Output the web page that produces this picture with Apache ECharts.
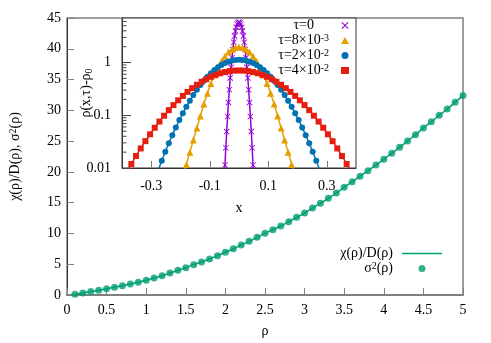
<!DOCTYPE html>
<html><head><meta charset="utf-8">
<script src="https://cdn.jsdelivr.net/npm/echarts@6/dist/echarts.min.js"></script>
<style>html,body{margin:0;padding:0;background:#fff}#c{width:491px;height:343px}</style>
</head><body><div id="c"></div>
<script>
// ---- main panel data ----
const rho = [0.1,0.2,0.3,0.4,0.5,0.6,0.7,0.8,0.9,1.0,1.1,1.2,1.3,1.4,1.5,1.6,1.7,1.8,1.9,2.0,2.1,2.2,2.3,2.4,2.5,2.6,2.7,2.8,2.9,3.0,3.1,3.2,3.3,3.4,3.5,3.6,3.7,3.8,3.9,4.0,4.1,4.2,4.3,4.4,4.5,4.6,4.7,4.8,4.9,5.0];
const sigma2 = [0.12,0.33,0.55,0.78,1.01,1.25,1.50,1.78,2.08,2.40,2.76,3.14,3.57,4.01,4.44,4.93,5.36,5.85,6.39,6.94,7.52,8.12,8.72,9.37,10.02,10.61,11.21,11.91,12.62,13.32,14.13,14.89,15.70,16.57,17.49,18.41,19.28,20.19,21.12,22.04,23.02,23.99,25.02,26.04,27.13,28.15,29.19,30.21,31.30,32.43];
const chiD = [0.12,0.33,0.55,0.78,1.01,1.25,1.50,1.78,2.08,2.40,2.76,3.14,3.57,4.01,4.44,4.93,5.36,5.85,6.39,6.94,7.52,8.12,8.72,9.37,10.02,10.61,11.21,11.91,12.62,13.32,14.13,14.89,15.70,16.57,17.49,18.41,19.28,20.19,21.12,22.04,23.02,23.99,25.02,26.04,27.13,28.15,29.19,30.21,31.30,32.43];

// ---- inset data ----
const xTau0 = [-0.051,-0.048,-0.045,-0.042,-0.039,-0.036,-0.033,-0.03,-0.027,-0.024,-0.021,-0.018,-0.015,-0.012,-0.009,-0.006,-0.003,0,0.003,0.006,0.009,0.012,0.015,0.018,0.021,0.024,0.027,0.03,0.033,0.036,0.039,0.042,0.045,0.048,0.051];
const yTau0 = [0.0051,0.0114,0.0242,0.0491,0.0948,0.175,0.305,0.510,0.811,1.23,1.77,2.43,3.18,3.96,4.69,5.30,5.71,5.85,5.71,5.30,4.69,3.96,3.18,2.43,1.77,1.23,0.811,0.510,0.305,0.175,0.0948,0.0491,0.0242,0.0114,0.0051];
const xTau1 = [-0.192,-0.18,-0.168,-0.156,-0.144,-0.132,-0.12,-0.108,-0.096,-0.084,-0.072,-0.06,-0.048,-0.036,-0.024,-0.012,0,0.012,0.024,0.036,0.048,0.06,0.072,0.084,0.096,0.108,0.12,0.132,0.144,0.156,0.168,0.18,0.192];
const yTau1 = [0.0069,0.0117,0.020,0.0339,0.0575,0.0973,0.164,0.263,0.402,0.583,0.805,1.06,1.32,1.58,1.79,1.92,1.97,1.92,1.79,1.58,1.32,1.06,0.805,0.583,0.402,0.263,0.164,0.0973,0.0575,0.0339,0.020,0.0117,0.0069];
const xTau2 = [-0.288,-0.276,-0.264,-0.252,-0.24,-0.228,-0.216,-0.204,-0.192,-0.18,-0.168,-0.156,-0.144,-0.132,-0.12,-0.108,-0.096,-0.084,-0.072,-0.06,-0.048,-0.036,-0.024,-0.012,0,0.012,0.024,0.036,0.048,0.06,0.072,0.084,0.096,0.108,0.12,0.132,0.144,0.156,0.168,0.18,0.192,0.204,0.216,0.228,0.24,0.252,0.264,0.276,0.288];
const yTau2 = [0.0059,0.00908,0.0137,0.0203,0.0294,0.0420,0.0589,0.0810,0.109,0.145,0.189,0.242,0.304,0.375,0.454,0.540,0.630,0.723,0.814,0.899,0.976,1.04,1.09,1.12,1.13,1.12,1.09,1.04,0.976,0.899,0.814,0.723,0.630,0.540,0.454,0.375,0.304,0.242,0.189,0.145,0.109,0.0810,0.0589,0.0420,0.0294,0.0203,0.0137,0.00908,0.0059];
const xTau3 = [-0.4,-0.384,-0.368,-0.352,-0.336,-0.32,-0.304,-0.288,-0.272,-0.256,-0.24,-0.224,-0.208,-0.192,-0.176,-0.16,-0.144,-0.128,-0.112,-0.096,-0.08,-0.064,-0.048,-0.032,-0.016,0,0.016,0.032,0.048,0.064,0.08,0.096,0.112,0.128,0.144,0.16,0.176,0.192,0.208,0.224,0.24,0.256,0.272,0.288,0.304,0.32,0.336,0.352,0.368,0.384,0.4];
const yTau3 = [0.00568,0.00829,0.0119,0.0169,0.0235,0.0323,0.0436,0.0580,0.0760,0.0981,0.125,0.156,0.192,0.233,0.278,0.327,0.379,0.432,0.485,0.536,0.584,0.626,0.660,0.687,0.703,0.708,0.703,0.687,0.660,0.626,0.584,0.536,0.485,0.432,0.379,0.327,0.278,0.233,0.192,0.156,0.125,0.0981,0.0760,0.0580,0.0436,0.0323,0.0235,0.0169,0.0119,0.00829,0.00568];
const insetXTicks = [-0.3,-0.1,0.1,0.3];
const insetMinorTicks = [0.02,0.03,0.04,0.05,0.06,0.07,0.08,0.09,0.2,0.3,0.4,0.5,0.6,0.7,0.8,0.9,2,3,4,5,6];

const F = 'Liberation Serif';
const pairs = (xs, ys) => xs.map((x, i) => [x, ys[i]]);
const crossPath = 'path://M0,1 L1,0 L5,4 L9,0 L10,1 L6,5 L10,9 L9,10 L5,6 L1,10 L0,9 L4,5 Z';
const linePath = 'path://M0,0 L40,0 L40,1.6 L0,1.6 Z';
const C = {green:'#009e73', purple:'#9400d3', orange:'#e69f00', blue:'#0072b2', red:'#e51e10'};

const chart = echarts.init(document.getElementById('c'), null, {renderer:'canvas'});
const insetSeries = (name, xs, ys, color, symbol, size) => ({
  name, type:'line', xAxisIndex:1, yAxisIndex:1, data: pairs(xs, ys),
  smooth: 0.3, symbol, symbolSize: size, showSymbol: true, clip: true,
  lineStyle:{color, width:1.5}, itemStyle:{color}, z: 5
});
const legendText = {
  tau0:'τ=0{p| }', tau1:'τ=8×10{sup|-3}{q| }', tau2:'τ=2×10{sup|-2}{q| }', tau3:'τ=4×10{sup|-2}{q| }',
  chi:'χ(ρ)/D(ρ){r| }', sig:'σ{sup|2}(ρ){r| }'
};
const rich = {
  sup:{fontFamily:F, fontSize:10, verticalAlign:'top', lineHeight:15, color:'#000'},
  p:{width:22, lineHeight:15}, q:{width:7, lineHeight:15}, r:{width:4, lineHeight:15}
};

chart.setOption({
  animation:false,
  backgroundColor:'#fff',
  grid:[
    {left:64, top:18, width:399, height:277, show:true, borderColor:'#808080', borderWidth:1.5, backgroundColor:'#fff', containLabel:false},
    {left:122, top:18, width:234, height:150, show:true, borderColor:'#333', borderWidth:1, backgroundColor:'#fff', z:3, containLabel:false}
  ],
  xAxis:[
    {type:'value', gridIndex:0, min:0, max:5, interval:0.5,
     axisLine:{show:true, lineStyle:{color:'#808080', width:2}},
     axisTick:{show:true, inside:true, length:7, lineStyle:{color:'#808080', width:1}},
     axisLabel:{fontFamily:F, fontSize:14, color:'#000', margin:8},
     splitLine:{show:false},
     name:'ρ', nameLocation:'middle', nameGap:29, nameMoveOverlap:false, nameTextStyle:{fontFamily:F, fontSize:14, color:'#000'}},
    {type:'value', gridIndex:1, min:-0.4, max:0.4, z:4,
     axisLine:{show:true, onZero:false, lineStyle:{color:'#333', width:1}},
     axisTick:{show:true, inside:true, length:7, customValues: insetXTicks, lineStyle:{color:'#808080'}},
     axisLabel:{fontFamily:F, fontSize:14, color:'#000', margin:11, customValues: insetXTicks},
     splitLine:{show:false},
     name:'x', nameLocation:'middle', nameGap:33, nameMoveOverlap:false, nameTextStyle:{fontFamily:F, fontSize:14, color:'#000'}}
  ],
  yAxis:[
    {type:'value', gridIndex:0, min:0, max:45, interval:5,
     axisLine:{show:true, lineStyle:{color:'#333', width:1}},
     axisTick:{show:true, inside:true, length:7, lineStyle:{color:'#808080'}},
     axisLabel:{fontFamily:F, fontSize:14, color:'#000', margin:6},
     splitLine:{show:false},
     name:'χ(ρ)/D(ρ), σ{sup|2}(ρ)', nameLocation:'middle', nameGap:44, nameRotate:90, nameMoveOverlap:false,
     nameTextStyle:{fontFamily:F, fontSize:14, color:'#000', lineHeight:15, rich:{sup:{fontFamily:F, fontSize:10, verticalAlign:'top', lineHeight:15}}}},
    {type:'log', gridIndex:1, min:0.01, max:7, logBase:10, z:4,
     axisLine:{show:true, onZero:false, lineStyle:{color:'#333', width:1}},
     axisTick:{show:true, inside:true, length:9, lineStyle:{color:'#444'}},
     axisLabel:{fontFamily:F, fontSize:14, color:'#000', margin:11, showMaxLabel:false,
       formatter:v => { const l = Math.log10(v); return Math.abs(l - Math.round(l)) < 1e-6 ? String(+v.toPrecision(3)) : ''; }},
     splitLine:{show:false}, minorTick:{show:false},
     name:'ρ(x,τ)-ρ{sub|0}', nameLocation:'middle', nameGap:28, nameRotate:90, nameMoveOverlap:false,
     nameTextStyle:{fontFamily:F, fontSize:14, color:'#000', lineHeight:15, rich:{sub:{fontFamily:F, fontSize:10, verticalAlign:'bottom', lineHeight:15}}}}
  ],
  legend:[
    {data:[{name:'tau0', icon:crossPath},{name:'tau1', icon:'triangle'},{name:'tau2', icon:'circle'},{name:'tau3', icon:'rect'}],
     orient:'vertical', align:'right', right:142, top:18, itemWidth:8, itemHeight:7, itemGap:0, padding:0,
     selectedMode:false, z:10,
     textStyle:{fontFamily:F, fontSize:14, color:'#000', lineHeight:15, rich},
     formatter:n => legendText[n]},
    {data:[{name:'chi', icon:linePath},{name:'sig', icon:'circle'}],
     orient:'vertical', align:'right', right:49, top:246, itemWidth:40, itemHeight:7, itemGap:0, padding:0,
     selectedMode:false,
     textStyle:{fontFamily:F, fontSize:14, color:'#000', lineHeight:15, rich},
     formatter:n => legendText[n]}
  ],
  series:[
    {name:'chi', type:'line', xAxisIndex:0, yAxisIndex:0, data:pairs(rho, chiD), smooth:0.3, symbol:'none',
     lineStyle:{color:C.green, width:1.5}, itemStyle:{color:C.green}},
    {name:'sig', type:'scatter', xAxisIndex:0, yAxisIndex:0, data:pairs(rho, sigma2), symbol:'circle', symbolSize:7,
     itemStyle:{color:C.green}},
    {type:'custom', xAxisIndex:1, yAxisIndex:1, silent:true, z:6,
     data: insetMinorTicks.map(v => [-0.4, v]),
     renderItem:(params, api) => {
       const p = api.coord([api.value(0), api.value(1)]);
       return {type:'line', shape:{x1:p[0], y1:p[1], x2:p[0]+4.5, y2:p[1]}, style:{stroke:'#444', lineWidth:1}};
     }},
    insetSeries('tau0', xTau0, yTau0, C.purple, crossPath, 6),
    insetSeries('tau1', xTau1, yTau1, C.orange, 'triangle', 7),
    insetSeries('tau2', xTau2, yTau2, C.blue, 'circle', 6),
    insetSeries('tau3', xTau3, yTau3, C.red, 'rect', 6)
  ]
});
</script></body></html>
